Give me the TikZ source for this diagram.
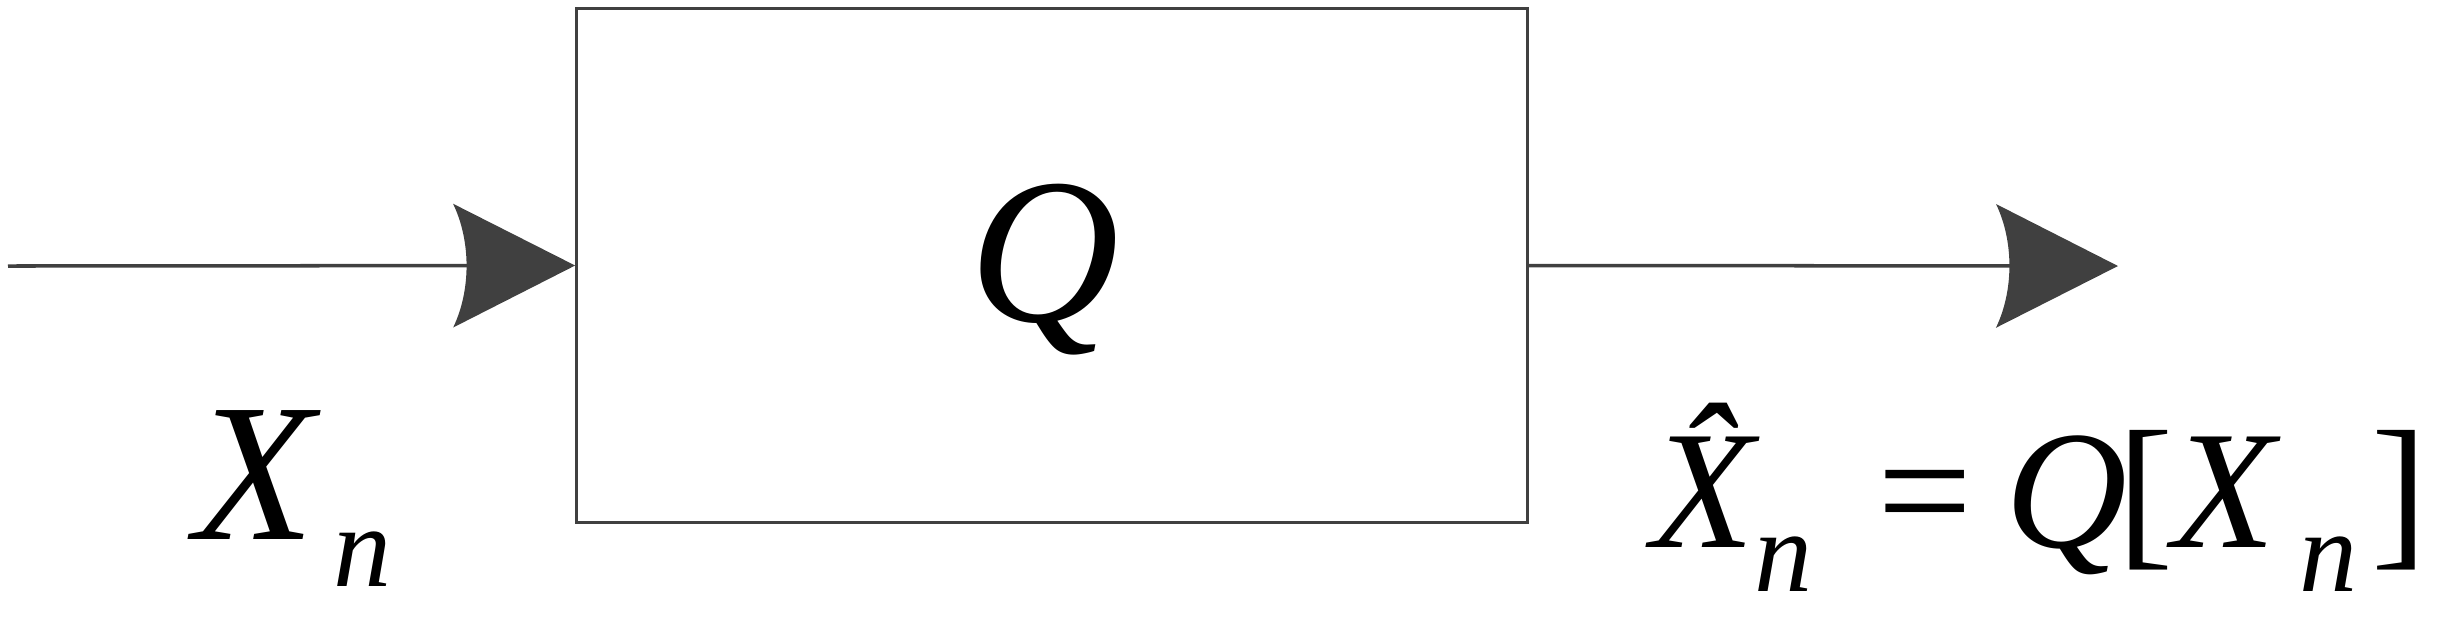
\documentclass[tikz,border=0pt]{standalone}
\usepackage{fontspec}
\setmainfont{Liberation Serif}
\usetikzlibrary{arrows.meta}
\definecolor{linegray}{HTML}{404040}
% arrow head with a curved back
\pgfdeclarearrow{
  name = BowHead,
  setup code = {
    \pgfarrowssettipend{0pt}
    \pgfarrowssetlineend{-20pt}
    \pgfarrowssetvisualbackend{-34.7pt}
    \pgfarrowssetbackend{-34.7pt}
    \pgfarrowsupperhullpoint{-34.7pt}{17.6pt}
    \pgfarrowsupperhullpoint{0pt}{0pt}
  },
  drawing code = {
    \pgfpathmoveto{\pgfpointorigin}
    \pgfpathlineto{\pgfpoint{-34.7pt}{17.6pt}}
    \pgfpathcurveto{\pgfpoint{-29.6pt}{7pt}}{\pgfpoint{-29.6pt}{-7pt}}{\pgfpoint{-34.7pt}{-17.6pt}}
    \pgfpathclose
    \pgfusepathqfill
  }
}
\begin{document}
\begin{tikzpicture}[x=0.01cm, y=-0.01cm,
            sym/.style={inner sep=0pt, anchor=base, font=\fontsize{48}{48}\selectfont\itshape},
            sub/.style={inner sep=0pt, anchor=base, font=\fontsize{33}{33}\selectfont\itshape},
            flow/.style={color=linegray, line width=1pt, -BowHead}
            ]
            \useasboundingbox (0,0) rectangle (2450,638);
            \node[draw=linegray, line width=0.9pt, minimum width=9.5cm, minimum height=5.13cm, inner sep=0pt] (box) at (1052,265.5) {};
            \node[inner sep=0pt, anchor=base, font=\fontsize{59}{59}\selectfont\itshape] (q) at (1044,321) {Q};
            \coordinate (in) at (8,266);
            \coordinate (out) at (2118,266);

            \node[inner sep=0pt, anchor=base, font=\fontsize{56}{56}\selectfont\itshape] (x) at (255,539) {X};
            \node[sub] (xn) at (363,586) {n};

            \node[sym] (xhat) at (1703,547) {\^{X}};
            \node[sub] (xhatn) at (1784,591) {n};
            \node[sym, font=\fontsize{48}{48}\selectfont] (eq) at (1925,547) {=};
            \node[sym] (q2) at (2066,547) {Q};
            \node[sym, font=\fontsize{48}{48}\selectfont] (lb) at (2146,547) {[};
            \node[sym] (x2) at (2224,547) {X};
            \node[sub] (x2n) at (2328,591) {n};
            \node[sym, font=\fontsize{48}{48}\selectfont] (rb) at (2400,547) {]};

            \draw[flow] (in) -- (box.west);
            \draw[flow] (box.east) -- (out);
\end{tikzpicture}
\end{document}
